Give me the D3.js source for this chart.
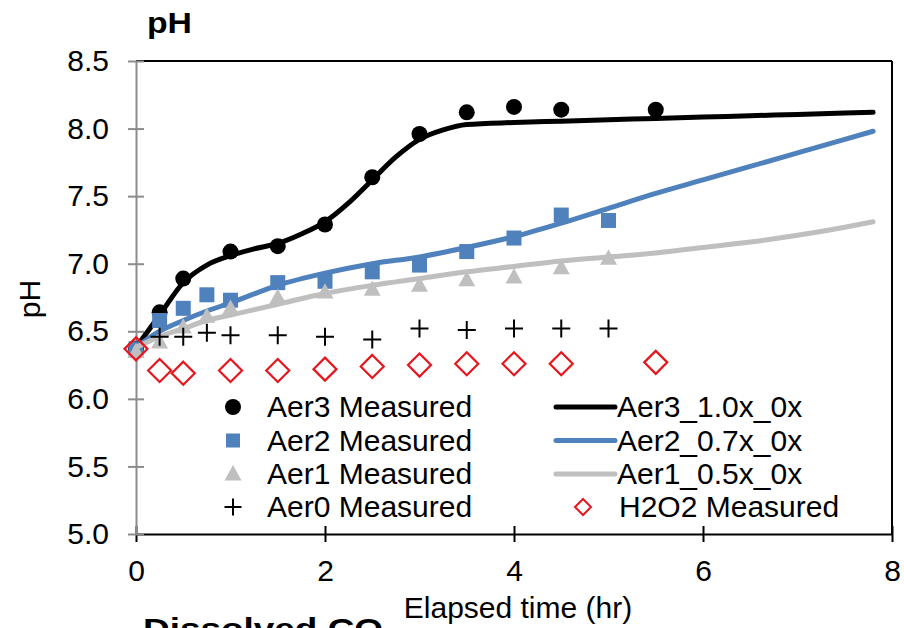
<!DOCTYPE html>
<html>
<head>
<meta charset="utf-8">
<script src="https://cdn.jsdelivr.net/npm/d3@7"></script>
<style>
  html, body { margin: 0; padding: 0; background: #ffffff; }
  svg { display: block; font-family: "Liberation Sans", Arial, sans-serif; }
</style>
</head>
<body>
<svg id="chart" width="904" height="628"></svg>
<script>
// ---------------- DATA ----------------
const xTicks = [0, 2, 4, 6, 8];
const yTicks = [5.0, 5.5, 6.0, 6.5, 7.0, 7.5, 8.0, 8.5];

// Measured series
const aer3Time = [0, 0.25, 0.5, 1, 1.5, 2, 2.5, 3, 3.5, 4, 4.5, 5.5];
const aer3pH   = [6.37, 6.64, 6.89, 7.09, 7.13, 7.29, 7.64, 7.96, 8.12, 8.16, 8.14, 8.14];

const aer2Time = [0, 0.25, 0.5, 0.75, 1, 1.5, 2, 2.5, 3, 3.5, 4, 4.5, 5];
const aer2pH   = [6.37, 6.58, 6.67, 6.77, 6.73, 6.86, 6.87, 6.94, 6.99, 7.09, 7.19, 7.36, 7.32];

const aer1Time = [0, 0.25, 0.5, 0.75, 1, 1.5, 2, 2.5, 3, 3.5, 4, 4.5, 5];
const aer1pH   = [6.35, 6.42, 6.53, 6.61, 6.67, 6.75, 6.79, 6.81, 6.84, 6.88, 6.90, 6.97, 7.04];

const aer0Time = [0.25, 0.5, 0.75, 1, 1.5, 2, 2.5, 3, 3.5, 4, 4.5, 5];
const aer0pH   = [6.46, 6.46, 6.49, 6.47, 6.47, 6.46, 6.44, 6.52, 6.51, 6.52, 6.52, 6.52];

const h2o2Time = [0, 0.25, 0.5, 1, 1.5, 2, 2.5, 3, 3.5, 4, 4.5, 5.5];
const h2o2pH   = [6.37, 6.21, 6.19, 6.21, 6.21, 6.22, 6.24, 6.25, 6.26, 6.26, 6.26, 6.27];

// Model series
const model3Time = [0, 0.25, 0.5, 0.75, 1, 1.25, 1.5, 1.75, 2, 2.25, 2.5, 2.75, 3, 3.25, 3.5, 4, 4.5, 5, 5.5, 6, 6.5, 7, 7.5, 7.8];
const model3pH   = [6.38, 6.62, 6.86, 6.99, 7.06, 7.11, 7.15, 7.22, 7.31, 7.45, 7.62, 7.79, 7.92, 7.99, 8.03, 8.045, 8.055, 8.065, 8.075, 8.085, 8.095, 8.105, 8.115, 8.12];

const model2Time = [0, 0.25, 0.5, 0.75, 1, 1.5, 2, 2.5, 3, 3.5, 4, 4.5, 5, 5.5, 6, 6.5, 7, 7.5, 7.8];
const model2pH   = [6.38, 6.50, 6.58, 6.65, 6.71, 6.84, 6.93, 7.00, 7.05, 7.12, 7.20, 7.30, 7.41, 7.52, 7.62, 7.72, 7.82, 7.92, 7.98];

const model1Time = [0, 0.25, 0.5, 0.75, 1, 1.5, 2, 2.5, 3, 3.5, 4, 4.5, 5, 5.5, 6, 6.5, 7, 7.5, 7.8];
const model1pH   = [6.38, 6.46, 6.52, 6.58, 6.62, 6.70, 6.78, 6.84, 6.89, 6.94, 6.98, 7.02, 7.05, 7.08, 7.12, 7.16, 7.21, 7.27, 7.31];

// ---------------- SETUP ----------------
const svg = d3.select("#chart");
const FONT = 30;
const BLUE = "#4f81bd", GRAY = "#bfbfbf", RED = "#e8161c", BLACK = "#000000";
const AXISGRAY = "#8c8c8c";

const x = d3.scaleLinear().domain([0, 8]).range([136, 892]);
const y = d3.scaleLinear().domain([5, 8.5]).range([534, 61]);

const zip = (t, v) => t.map((d, i) => ({ t: d, v: v[i] }));

// frame (top & right)
svg.append("line").attr("x1", x(0)).attr("x2", x(8)).attr("y1", y(8.5)).attr("y2", y(8.5))
  .attr("stroke", BLACK).attr("stroke-width", 2);
svg.append("line").attr("x1", x(8)).attr("x2", x(8)).attr("y1", y(8.5)).attr("y2", y(5))
  .attr("stroke", BLACK).attr("stroke-width", 2);

// bottom axis
const xAxis = svg.append("g").attr("transform", `translate(0,${y(5)})`)
  .call(d3.axisBottom(x).tickValues(xTicks).tickFormat(d3.format("d")).tickSize(8).tickPadding(18).tickSizeOuter(0));
xAxis.select(".domain").attr("stroke", BLACK).attr("stroke-width", 2);
xAxis.selectAll(".tick line").attr("y1", -8).attr("stroke", BLACK).attr("stroke-width", 2);
xAxis.selectAll(".tick text").attr("font-size", FONT).attr("fill", "#000")
  .attr("font-family", "Liberation Sans, Arial, sans-serif");

// left axis
const yAxis = svg.append("g").attr("transform", `translate(${x(0)},0)`)
  .call(d3.axisLeft(y).tickValues(yTicks).tickFormat(d3.format(".1f")).tickSize(8).tickPadding(19).tickSizeOuter(0));
yAxis.select(".domain").attr("stroke", AXISGRAY).attr("stroke-width", 2);
yAxis.selectAll(".tick line").attr("x1", 8).attr("stroke", AXISGRAY).attr("stroke-width", 2);
yAxis.selectAll(".tick text").attr("font-size", FONT).attr("fill", "#000")
  .attr("font-family", "Liberation Sans, Arial, sans-serif");

// ---------------- MARKERS ----------------
const plot = svg.append("g");
const lineGen = d3.line().x(d => x(d.t)).y(d => y(d.v)).curve(d3.curveMonotoneX);

function drawLine(g, data, color) {
  g.append("path").datum(data).attr("d", lineGen)
    .attr("fill", "none").attr("stroke", color).attr("stroke-width", 5)
    .attr("stroke-linejoin", "round").attr("stroke-linecap", "round");
}
const shapes = {
  circle: (s) => `M${-s},0A${s},${s} 0 1,0 ${s},0A${s},${s} 0 1,0 ${-s},0Z`,
  square: (s) => `M${-s},${-s}H${s}V${s}H${-s}Z`,
  triangle: (s) => `M0,${-s * 1.05}L${s},${s * 0.75}L${-s},${s * 0.75}Z`,
  cross: (s) => `M${-s},0H${s}M0,${-s}V${s}`,
  diamond: (s) => `M0,${-s}L${s},0L0,${s}L${-s},0Z`
};
function drawMarkers(g, data, kind, size, color) {
  const fillKinds = ["circle", "square", "triangle"];
  g.selectAll(null).data(data).enter().append("path")
    .attr("transform", d => `translate(${x(d.t)},${y(d.v)})`)
    .attr("d", shapes[kind](size))
    .attr("fill", fillKinds.includes(kind) ? color : "none")
    .attr("stroke", fillKinds.includes(kind) ? "none" : color)
    .attr("stroke-width", kind === "cross" ? 2 : 2.2);
}

drawMarkers(plot, zip(aer3Time, aer3pH), "circle", 8, BLACK);
drawLine(plot, zip(model3Time, model3pH), BLACK);
drawMarkers(plot, zip(aer2Time, aer2pH), "square", 7.5, BLUE);
drawLine(plot, zip(model2Time, model2pH), BLUE);
drawMarkers(plot, zip(aer1Time, aer1pH), "triangle", 8.5, GRAY);
drawLine(plot, zip(model1Time, model1pH), GRAY);
drawMarkers(plot, zip(aer0Time, aer0pH), "cross", 9, BLACK);
drawMarkers(plot, zip(h2o2Time, h2o2pH), "diamond", 11.5, RED);

// ---------------- LEGEND ----------------
const legendLeft = [
  { label: "Aer3 Measured", kind: "circle", size: 8, color: BLACK },
  { label: "Aer2 Measured", kind: "square", size: 7, color: BLUE },
  { label: "Aer1 Measured", kind: "triangle", size: 8.5, color: GRAY },
  { label: "Aer0 Measured", kind: "cross", size: 8.5, color: BLACK }
];
const legendRight = [
  { label: "Aer3_1.0x_0x", kind: "line", color: BLACK },
  { label: "Aer2_0.7x_0x", kind: "line", color: BLUE },
  { label: "Aer1_0.5x_0x", kind: "line", color: GRAY },
  { label: "H2O2 Measured", kind: "diamond", size: 8, color: RED }
];
const rowBase = [417, 450.5, 484, 517];
const leg = svg.append("g");
legendLeft.forEach((d, i) => {
  const cy = rowBase[i] - 10;
  const fillKinds = ["circle", "square", "triangle"];
  leg.append("path").attr("transform", `translate(233,${cy})`).attr("d", shapes[d.kind](d.size))
    .attr("fill", fillKinds.includes(d.kind) ? d.color : "none")
    .attr("stroke", fillKinds.includes(d.kind) ? "none" : d.color).attr("stroke-width", 2);
  leg.append("text").attr("x", 267).attr("y", rowBase[i]).attr("font-size", FONT).text(d.label);
});
legendRight.forEach((d, i) => {
  const cy = rowBase[i] - 10;
  if (d.kind === "line") {
    leg.append("line").attr("x1", 556).attr("x2", 615).attr("y1", cy).attr("y2", cy)
      .attr("stroke", d.color).attr("stroke-width", 5).attr("stroke-linecap", "round");
    leg.append("text").attr("x", 617).attr("y", rowBase[i]).attr("font-size", FONT).text(d.label);
  } else {
    leg.append("path").attr("transform", `translate(583,${cy})`).attr("d", shapes[d.kind](d.size))
      .attr("fill", "none").attr("stroke", d.color).attr("stroke-width", 2);
    leg.append("text").attr("x", 619).attr("y", rowBase[i]).attr("font-size", FONT).text(d.label);
  }
});

// ---------------- TITLES ----------------
svg.append("text").attr("x", 147).attr("y", 33).attr("font-size", 29).attr("font-weight", "bold")
  .attr("textLength", 45).attr("lengthAdjust", "spacingAndGlyphs").text("pH");
svg.append("text").attr("transform", "translate(40,299) rotate(-90)").attr("text-anchor", "middle")
  .attr("font-size", FONT).text("pH");
svg.append("text").attr("x", 518).attr("y", 618).attr("text-anchor", "middle")
  .attr("font-size", FONT).text("Elapsed time (hr)");
svg.append("text").attr("x", 143).attr("y", 639).attr("font-size", FONT).attr("font-weight", "bold")
  .attr("textLength", 240).attr("lengthAdjust", "spacingAndGlyphs").text("Dissolved CO");
</script>
</body>
</html>
